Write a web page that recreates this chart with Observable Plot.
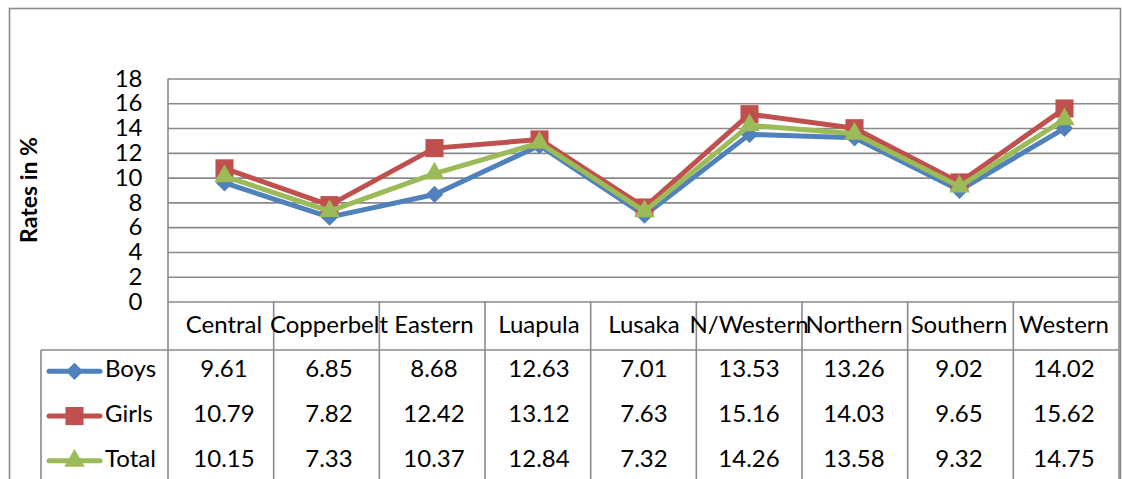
<!DOCTYPE html>
<html><head><meta charset="utf-8">
<script src="https://cdn.jsdelivr.net/npm/d3@7"></script>
<script src="https://cdn.jsdelivr.net/npm/@observablehq/plot@0.6"></script>
<style>body{margin:0;background:#fff;} svg{display:block;}</style>
</head><body><div id="chart"></div>
<script>
const regions = ["Central","Copperbelt","Eastern","Luapula","Lusaka","N/Western","Northern","Southern","Western"];
const boys  = [9.61, 6.85, 8.68, 12.63, 7.01, 13.53, 13.26, 9.02, 14.02];
const girls = [10.79, 7.82, 12.42, 13.12, 7.63, 15.16, 14.03, 9.65, 15.62];
const total = [10.15, 7.33, 10.37, 12.84, 7.32, 14.26, 13.58, 9.32, 14.75];
const seriesNames = ["Boys","Girls","Total"];
const seriesValues = [boys, girls, total];
const seriesColors = ["#4F81BD","#C0504D","#9BBB59"];
const seriesSymbols = ["diamond2","square","triangle"];
const seriesR = [7.8, 10.2, 7.6];
const yTicks = [0,2,4,6,8,10,12,14,16,18];
const yTitle = "Rates in %";

const W = 1122, H = 479;
const FONT = "Lato, 'Open Sans', sans-serif";
const FS = 24;
const GRID = "#8a8a8a";

const marks = [
  Plot.gridY(yTicks, {stroke: GRID, strokeOpacity: 1, strokeWidth: 1.6}),
  Plot.axisY(yTicks, {tickSize: 0, tickPadding: 26, fontSize: FS, fill: "#000", label: null})
];
seriesNames.forEach((name, s) => {
  const rows = regions.map((r, i) => ({region: r, value: seriesValues[s][i]}));
  marks.push(Plot.line(rows, {x: "region", y: "value", stroke: seriesColors[s], strokeWidth: 5, strokeLinejoin: "round", strokeLinecap: "round"}));
  marks.push(Plot.dot(rows, {x: "region", y: "value", symbol: seriesSymbols[s], r: seriesR[s], fill: seriesColors[s], stroke: "none"}));
});

const plot = Plot.plot({
  width: W, height: H,
  marginLeft: 168, marginRight: 3, marginTop: 78.5, marginBottom: H - 301.5,
  x: {type: "point", domain: regions, padding: 0.5, axis: null},
  y: {domain: [0, 18], axis: null},
  style: {fontFamily: FONT, fontSize: FS + "px", background: "#fff", color: "#000", overflow: "hidden"},
  marks
});
document.getElementById("chart").appendChild(plot);

// frame, data table and legend
const svg = d3.select(plot);
const xs = plot.scale("x");
const ys = plot.scale("y");
const [x0, x1] = xs.range;
const step = (x1 - x0) / regions.length;
const yBase = ys.apply(0);
const yTop = ys.apply(18);
const headerH = 48.5;
const rowH = 44.7;
const legendLeft = 41;
const g = svg.append("g").attr("text-anchor", "middle");
const line = (xa, ya, xb, yb) => g.append("line").attr("x1", xa).attr("y1", ya).attr("x2", xb).attr("y2", yb)
  .attr("stroke", GRID).attr("stroke-width", 1.6);

// outer chart border
g.append("rect").attr("x", 9.5).attr("y", 8.5).attr("width", 1111).attr("height", H + 20)
  .attr("fill", "none").attr("stroke", GRID).attr("stroke-width", 1.6);
// plot area left/right borders extending into table
line(x0, yTop, x0, H + 5);
line(x1, yTop, x1, H + 5);
// column separators
for (let i = 1; i < regions.length; i++) line(x0 + i * step, yBase, x0 + i * step, H + 5);
// header bottom line
const yRows = yBase + headerH;
line(legendLeft, yRows, x1, yRows);
line(legendLeft, yRows, legendLeft, H + 5);

// header text
regions.forEach((r, i) => {
  g.append("text").attr("x", xs.apply(r)).attr("y", yBase + headerH / 2 + 1)
    .attr("text-anchor", "middle").attr("dominant-baseline", "middle")
    .attr("font-size", FS).attr("fill", "#000").text(r);
});
// rows
seriesNames.forEach((name, s) => {
  const cy = yRows + rowH * (s + 0.5) - 1;
  regions.forEach((r, i) => {
    g.append("text").attr("x", xs.apply(r)).attr("y", cy)
      .attr("text-anchor", "middle").attr("dominant-baseline", "middle")
      .attr("font-size", FS).attr("fill", "#000").text(seriesValues[s][i].toFixed(2));
  });
  // legend key
  g.append("line").attr("x1", 49).attr("x2", 100).attr("y1", cy).attr("y2", cy)
    .attr("stroke", seriesColors[s]).attr("stroke-width", 5).attr("stroke-linecap", "round");
  const sym = {diamond2: d3.symbolDiamond2, square: d3.symbolSquare, triangle: d3.symbolTriangle}[seriesSymbols[s]];
  g.append("path").attr("d", d3.symbol(sym, Math.PI * seriesR[s] * seriesR[s])())
    .attr("transform", `translate(74.5,${cy})`).attr("fill", seriesColors[s]);
  g.append("text").attr("x", 105).attr("y", cy).attr("text-anchor", "start")
    .attr("dominant-baseline", "middle").attr("font-size", FS).attr("fill", "#000").text(name);
});

// y title
svg.append("text").attr("transform", `translate(31,${(yBase + yTop) / 2}) rotate(-90)`)
  .attr("text-anchor", "middle").attr("dominant-baseline", "middle")
  .attr("font-size", FS - 1).attr("font-weight", "bold").attr("fill", "#000").text(yTitle);
</script>
</body></html>
